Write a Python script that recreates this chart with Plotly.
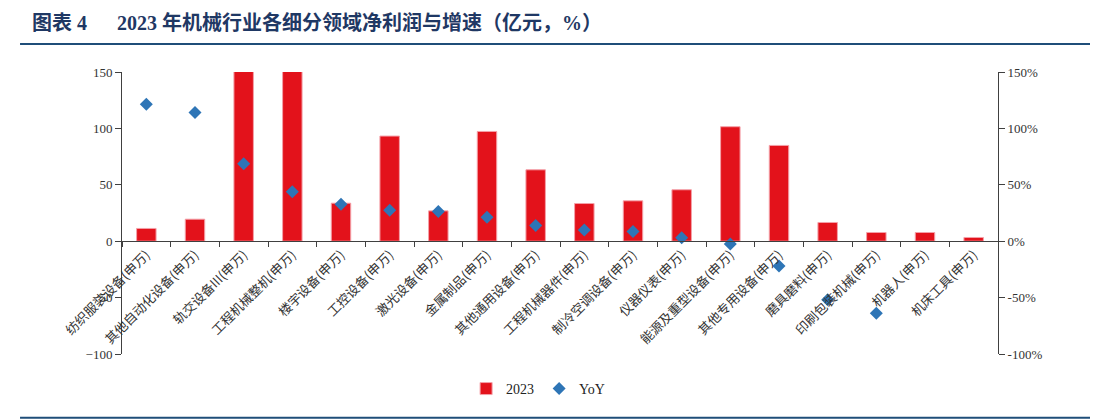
import plotly.graph_objects as go

categories = ["纺织服装设备(申万)", "其他自动化设备(申万)", "轨交设备III(申万)", "工程机械整机(申万)",
              "楼宇设备(申万)", "工控设备(申万)", "激光设备(申万)", "金属制品(申万)",
              "其他通用设备(申万)", "工程机械器件(申万)", "制冷空调设备(申万)", "仪器仪表(申万)",
              "能源及重型设备(申万)", "其他专用设备(申万)", "磨具磨料(申万)", "印刷包装机械(申万)",
              "机器人(申万)", "机床工具(申万)"]
profit_2023 = [11.3, 19.5, 165, 180, 33.7, 93.2, 26.9, 97.3, 63.3, 33.4, 35.8, 45.6,
               101.5, 84.9, 16.6, 7.7, 7.7, 3.3]
yoy = [121.3, 114.2, 68.6, 43.8, 32.8, 27.5, 26.3, 21.3, 13.9, 10.0, 8.6, 3.0,
       -2.4, -21.9, -51.8, -63.9, None, None]
left_ticks = [-100, -50, 0, 50, 100, 150]
right_ticks = [-100, -50, 0, 50, 100, 150]
right_tick_labels = ["-100%", "-50%", "0%", "50%", "100%", "150%"]

serif = "Times New Roman, Liberation Serif, Noto Sans CJK SC"
axis_color = "#404040"

fig = go.Figure()
fig.add_trace(go.Bar(
    x=categories, y=profit_2023, name="2023",
    marker=dict(color="#E3121B", line=dict(color="#F4A0A8", width=1)),
    width=0.4, yaxis="y",
))
fig.add_trace(go.Scatter(
    x=categories, y=yoy, name="YoY", mode="markers",
    marker=dict(symbol="diamond", size=10, color="#2E75B6"),
    yaxis="y2",
))

fig.update_layout(
    width=1090, height=412,
    margin=dict(l=114, r=100, t=64, b=66),
    paper_bgcolor="white", plot_bgcolor="white",
    font=dict(family=serif, size=13, color="#222222"),
    showlegend=True,
    legend=dict(orientation="h", x=0.475, xanchor="center", y=-0.124, yanchor="middle",
                font=dict(family=serif, size=14, color="#222222"),
                itemwidth=30, tracegroupgap=0, bgcolor="rgba(0,0,0,0)"),
    xaxis=dict(
        type="category", anchor="free", position=0.4, range=[-0.5, len(categories) - 0.5],
        showline=True, linecolor=axis_color, linewidth=1,
        ticks="outside", tickson="boundaries", ticklen=5, tickcolor=axis_color,
        tickangle=-45, showgrid=False, zeroline=False,
        tickfont=dict(family="Noto Sans CJK SC", size=13, color="#333333"),
    ),
    yaxis=dict(
        range=[-100, 150], tickvals=left_ticks, showline=True, linecolor=axis_color,
        ticks="outside", ticklen=6, tickcolor=axis_color, showgrid=False, zeroline=False,
        tickfont=dict(family=serif, size=13, color="#333333"),
    ),
    yaxis2=dict(
        range=[-100, 150], tickvals=right_ticks, ticktext=right_tick_labels,
        overlaying="y", side="right", showline=True, linecolor=axis_color,
        ticks="outside", ticklen=6, tickcolor=axis_color, showgrid=False, zeroline=False,
        tickfont=dict(family=serif, size=13, color="#333333"),
    ),
    bargap=0.6,
)

fig.add_annotation(
    xref="paper", yref="paper", x=-0.105, y=1.177, xanchor="left", yanchor="middle",
    text="<b>图表 4　  2023 年机械行业各细分领域净利润与增速（亿元，%）</b>",
    showarrow=False, font=dict(family="Times New Roman, Liberation Serif, Noto Sans CJK SC",
                               size=20, color="#1F3864"),
)
fig.add_shape(type="line", xref="paper", yref="paper", x0=-0.1164, x1=1.1142,
              y0=1.0993, y1=1.0993, line=dict(color="#1F4E79", width=2))
fig.add_shape(type="line", xref="paper", yref="paper", x0=-0.1164, x1=1.1142,
              y0=-0.226, y1=-0.226, line=dict(color="#1F4E79", width=2))

fig.write_html("out.html")
